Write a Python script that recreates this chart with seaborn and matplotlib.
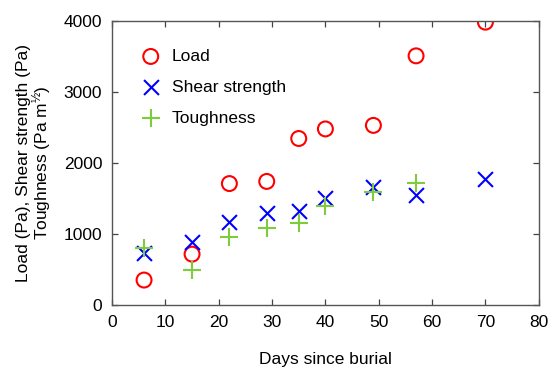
import matplotlib
matplotlib.use("Agg")
import matplotlib.pyplot as plt
import seaborn as sns
import pandas as pd

days = [6, 15, 22, 29, 35, 40, 49, 57, 70]
load = [350, 715, 1710, 1740, 2345, 2480, 2530, 3510, 3985]
shear = [730, 885, 1175, 1300, 1320, 1500, 1660, 1550, 1770]
tough_days = [6, 15, 22, 29, 35, 40, 49, 57]
toughness = [800, 495, 955, 1085, 1160, 1400, 1595, 1715]

x_ticks = [0, 10, 20, 30, 40, 50, 60, 70, 80]
y_ticks = [0, 1000, 2000, 3000, 4000]

sns.set_theme(style="ticks")
plt.rcParams['font.family'] = ['Liberation Sans', 'DejaVu Sans']
plt.rcParams['mathtext.fontset'] = 'custom'
plt.rcParams['mathtext.rm'] = 'Liberation Sans'
plt.rcParams['mathtext.it'] = 'Liberation Sans'
plt.rcParams['text.color'] = 'black'
plt.rcParams['axes.labelcolor'] = 'black'
plt.rcParams['xtick.labelcolor'] = 'black'
plt.rcParams['ytick.labelcolor'] = 'black'

fig = plt.figure(figsize=(5.52, 3.70), dpi=100)
ax = fig.add_axes([0.203, 0.176, 0.773, 0.767])

sns.scatterplot(x=days, y=load, ax=ax, marker='o', s=115,
                facecolors='none', edgecolors='#ff0000', linewidth=1.5, label='Load')
sns.scatterplot(x=days, y=shear, ax=ax, marker='x', s=115,
                color='#0000ff', linewidth=1.5, label='Shear strength')
sns.scatterplot(x=tough_days, y=toughness, ax=ax, marker='+', s=150,
                color='#7ccc3c', linewidth=1.5, label='Toughness')

ax.set_xlim(0, 80)
ax.set_ylim(0, 4000)
ax.set_xticks(x_ticks)
ax.set_yticks(y_ticks)
ax.tick_params(direction='in', length=4.5, width=0.9, color='#444444',
               labelsize=12.5, top=True, right=True, pad=7)
for sp in ax.spines.values():
    sp.set_color('#555555')
    sp.set_linewidth(1.0)

ax.set_xlabel('Days since burial', fontsize=12.5, labelpad=16)
ax.set_ylabel('Load (Pa), Shear strength (Pa)\nToughness (Pa m$^{½}$)',
              fontsize=12.5, labelpad=7, linespacing=1.0)

ax.legend(loc='upper left', bbox_to_anchor=(-0.007, 1.0), frameon=False,
          fontsize=12.5, labelspacing=0.9, handlelength=1.6,
          handletextpad=0.4, borderaxespad=1.2, borderpad=0.4)

fig.savefig('out.png', dpi=100)
